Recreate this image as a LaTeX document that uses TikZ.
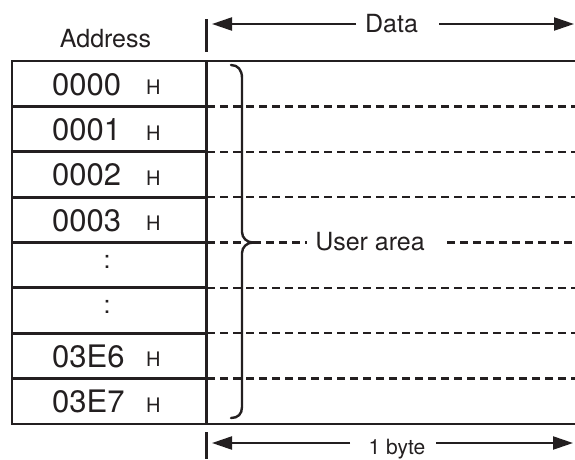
\documentclass[tikz,border=0pt]{standalone}
\usepackage{fontspec}
\setmainfont{TeX Gyre Heros}
\usetikzlibrary{arrows.meta}
\definecolor{ink}{HTML}{231F20}
\begin{document}
\begin{tikzpicture}[x=1pt,y=-1pt,
  solidline/.style={draw=ink, line width=2.8pt},
  tickline/.style={draw=ink, line width=2.4pt},
  dashline/.style={draw=ink, line width=2.4pt, dash pattern=on 7.5pt off 5.5pt},
  bracestyle/.style={draw=ink, line width=2.4pt, line cap=round},
  arrowline/.style={draw=ink, line width=2.2pt, -{Triangle[length=20pt,width=13pt]}},
  numtext/.style={inner sep=0pt, anchor=base west, font=\fontsize{31}{31}\selectfont, text=ink},
  htext/.style={inner sep=0pt, anchor=base west, font=\fontsize{20}{20}\selectfont, text=ink},
  lbl/.style={inner sep=0pt, font=\fontsize{25}{25}\selectfont, text=ink},
  smalllbl/.style={inner sep=0pt, anchor=base, font=\fontsize{21}{21}\selectfont, text=ink}]
\useasboundingbox (0,0) rectangle (575,459);

% header labels
\node[lbl] (addr) at (105.5,39) {Address};
\node[lbl] (data) at (391.5,24) {Data};
\coordinate (dataL) at (356,24);
\coordinate (dataR) at (439,24);
\coordinate (dataLtip) at (212,24);
\coordinate (dataRtip) at (574,24);
\draw[arrowline] (dataL) -- (dataLtip);
\draw[arrowline] (dataR) -- (dataRtip);
\coordinate (ttop) at (206.5,19);
\coordinate (tbot) at (206.5,52);
\draw[tickline] (ttop) -- (tbot);

% dashed data lines
\foreach \i in {1,2,3,5,6,7} {
  \coordinate (dl\i) at (207,{61+45.375*\i});
  \coordinate (dr\i) at (575,{61+45.375*\i});
  \draw[dashline] (dl\i) -- (dr\i);
}
\node[lbl] (user) at (370,242) {User area};
\coordinate (m1) at (207,242.5);
\coordinate (m2) at (242,242.5);
\coordinate (m3) at (253,242.5);
\coordinate (m4) at (307,242.5);
\coordinate (m5) at (447,242.5);
\coordinate (m6) at (575,242.5);
\draw[dashline] (m1) -- (m2);
\draw[dashline] (m3) -- (m4);
\draw[dashline] (m5) -- (m6);

% solid row separators in address column
\foreach \i in {1,...,7} {
  \coordinate (sl\i) at (12,{61+45.375*\i});
  \coordinate (sr\i) at (207,{61+45.375*\i});
  \draw[solidline] (sl\i) -- (sr\i);
}

% frame
\coordinate (tl) at (12,61);
\coordinate (tr) at (575,61);
\coordinate (bl) at (12,424);
\coordinate (br) at (575,424);
\coordinate (divt) at (206.5,61);
\coordinate (divb) at (206.5,424);
\draw[solidline] (tr) -- (tl) -- (bl) -- (br);
\draw[solidline] (divt) -- (divb);

% brace
\draw[bracestyle] (231,65) .. controls (238,65) and (242,70) .. (242,78)
  -- (242,232) .. controls (242,238) and (247,242.5) .. (253,242.5)
  .. controls (247,242.5) and (242,247) .. (242,253)
  -- (242,407) .. controls (242,414) and (238,418) .. (231,418);

% address labels
\foreach \i/\a in {1/0000,2/0001,3/0002,4/0003,7/03E6,8/03E7} {
  \node[numtext] (n\i) at (52,{61+45.375*(\i-0.5)+11.5}) {\a};
  \node[htext] (h\i) at (146,{61+45.375*(\i-0.5)+11}) {H};
}
\node[lbl] (d5) at (107,{61+45.375*4.5-3}) {:};
\node[lbl] (d6) at (107,{61+45.375*5.5-4}) {:};

% bottom: 1 byte
\coordinate (bt) at (206.5,432);
\coordinate (bb) at (206.5,459);
\draw[tickline] (bt) -- (bb);
\node[smalllbl] (byte) at (397,454) {1 byte};
\coordinate (byL) at (350,443);
\coordinate (byR) at (436,443);
\coordinate (byLtip) at (212,443);
\coordinate (byRtip) at (573,443);
\draw[arrowline] (byL) -- (byLtip);
\draw[arrowline] (byR) -- (byRtip);
\end{tikzpicture}
\end{document}
